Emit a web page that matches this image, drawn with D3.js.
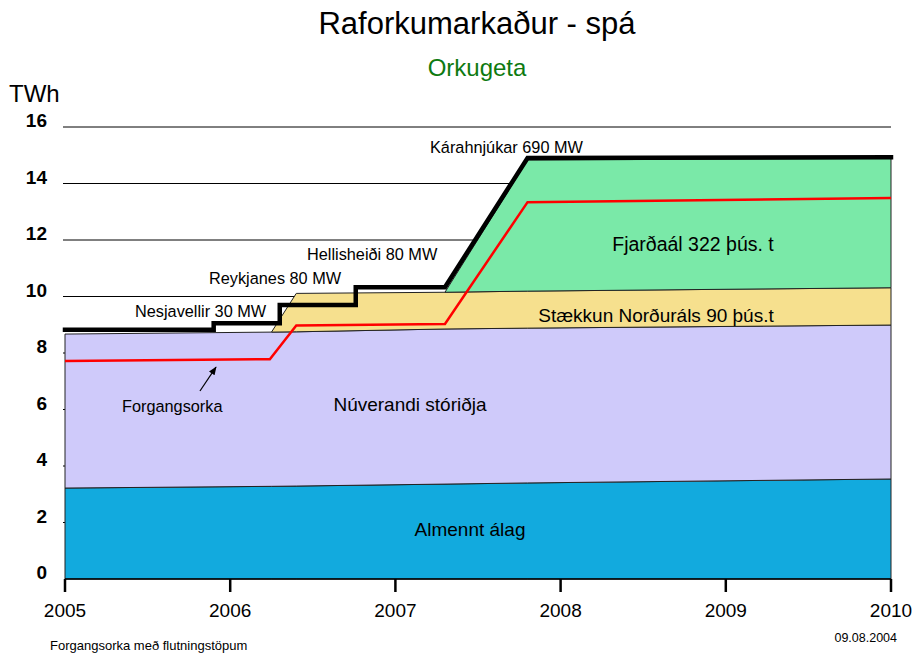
<!DOCTYPE html>
<html>
<head>
<meta charset="utf-8">
<script src="https://cdn.jsdelivr.net/npm/d3@7"></script>
<style>
  html, body { margin: 0; padding: 0; background: #fff; }
  svg { display: block; font-family: Arial, "Liberation Sans", sans-serif; }
</style>
</head>
<body>
<div id="chart"></div>
<script>
// Raforkumarkaður - spá: stacked areas (notkun) + orkugeta (svört þrep) + forgangsorka (rauð)

const years = [2005, 2006.25, 2006.4, 2007.3, 2007.8, 2010];
const almenntAlag = [3.22, 3.28, 3.29, 3.36, 3.40, 3.54];
const nuverandiStoridja = [5.45, 5.46, 5.46, 5.49, 5.48, 5.45];
const staekkunNordurals = [0, 0, 1.36, 1.30, 1.31, 1.32];
const fjardaal = [0, 0, 0, 0, 4.64, 4.58];

const orkugetaYears = [2005, 2005.9, 2005.9, 2006.3, 2006.3, 2006.76, 2006.76, 2007.3, 2007.8, 2010];
const orkugeta = [8.82, 8.82, 9.05, 9.05, 9.70, 9.70, 10.33, 10.33, 14.90, 14.93];

const forgangYears = [2005, 2006.24, 2006.4, 2007.3, 2007.8, 2010];
const forgangsorka = [7.72, 7.78, 8.97, 9.03, 13.34, 13.49];

const xTicks = [2005, 2006, 2007, 2008, 2009, 2010];
const yTicks = [0, 2, 4, 6, 8, 10, 12, 14, 16];

const layerKeys = ['almennt', 'nuverandi', 'nordural', 'fjardaal'];
const layerColors = {
  almennt: '#12aade',
  nuverandi: '#cfcafa',
  nordural: '#f6e08e',
  fjardaal: '#7ae9a8'
};

const W = 916, H = 654;
const svg = d3.select('#chart').append('svg')
  .attr('width', W).attr('height', H)
  .attr('viewBox', `0 0 ${W} ${H}`);

const x = d3.scaleLinear().domain([2005, 2010]).range([65, 891]);
const y = d3.scaleLinear().domain([0, 16]).range([579, 127]);

// titles
svg.append('text')
  .attr('x', 477).attr('y', 34)
  .attr('text-anchor', 'middle')
  .attr('font-size', 31)
  .attr('fill', '#000')
  .text('Raforkumarkaður - spá');

svg.append('text')
  .attr('x', 477).attr('y', 76)
  .attr('text-anchor', 'middle')
  .attr('font-size', 24)
  .attr('fill', '#0e7a10')
  .text('Orkugeta');

svg.append('text')
  .attr('x', 9).attr('y', 102)
  .attr('font-size', 24)
  .attr('fill', '#000')
  .text('TWh');

// gridlines (behind the areas)
svg.append('g').selectAll('line')
  .data(yTicks.filter(d => d > 0))
  .join('line')
  .attr('x1', 63).attr('x2', x(2010))
  .attr('y1', d => y(d)).attr('y2', d => y(d))
  .attr('stroke', '#000').attr('stroke-width', 1);

// y labels
svg.append('g').selectAll('text')
  .data(yTicks)
  .join('text')
  .attr('x', 47).attr('y', d => y(d))
  .attr('text-anchor', 'end')
  .attr('font-size', 19)
  .attr('font-weight', 'bold')
  .text(d => d);

// stacked areas
const rows = years.map((yr, i) => ({
  year: yr,
  almennt: almenntAlag[i],
  nuverandi: nuverandiStoridja[i],
  nordural: staekkunNordurals[i],
  fjardaal: fjardaal[i]
}));
const stacked = d3.stack().keys(layerKeys)(rows);

const area = d3.area()
  .x(d => x(d.data.year))
  .y0(d => y(d[0]))
  .y1(d => y(d[1]));

const startIdx = { almennt: 0, nuverandi: 0, nordural: 1, fjardaal: 3 };

svg.append('g').selectAll('path')
  .data(stacked)
  .join('path')
  .attr('d', s => area(s.slice(startIdx[s.key])))
  .attr('fill', s => layerColors[s.key])
  .attr('stroke', '#222')
  .attr('stroke-width', 1)
  .attr('stroke-linejoin', 'round');

// x axis
const axisG = svg.append('g');
axisG.append('line')
  .attr('x1', x(2005)).attr('x2', x(2010))
  .attr('y1', y(0)).attr('y2', y(0))
  .attr('stroke', '#000').attr('stroke-width', 1.5);
axisG.selectAll('line.tick')
  .data(xTicks)
  .join('line')
  .attr('class', 'tick')
  .attr('x1', d => x(d)).attr('x2', d => x(d))
  .attr('y1', y(0)).attr('y2', y(0) + 13)
  .attr('stroke', '#000').attr('stroke-width', 2.5);
axisG.selectAll('text')
  .data(xTicks)
  .join('text')
  .attr('x', d => x(d)).attr('y', 617)
  .attr('text-anchor', 'middle')
  .attr('font-size', 19)
  .text(d => d);

// forgangsorka (red)
const line = d3.line().x(d => x(d[0])).y(d => y(d[1]));
svg.append('path')
  .attr('d', line(forgangYears.map((yr, i) => [yr, forgangsorka[i]])))
  .attr('fill', 'none')
  .attr('stroke', '#ff0000')
  .attr('stroke-width', 2.5);

// orkugeta (black steps)
svg.append('path')
  .attr('d', line(orkugetaYears.map((yr, i) => [yr, orkugeta[i]])))
  .attr('fill', 'none')
  .attr('stroke', '#000')
  .attr('stroke-width', 4.5)
  .attr('stroke-linejoin', 'miter')
  .attr('stroke-linecap', 'square');

// arrow to forgangsorka
svg.append('defs').append('marker')
  .attr('id', 'arr')
  .attr('viewBox', '0 0 10 10')
  .attr('refX', 9).attr('refY', 5)
  .attr('markerWidth', 7).attr('markerHeight', 7)
  .attr('orient', 'auto')
  .append('path').attr('d', 'M0,1 L10,5 L0,9 Z').attr('fill', '#000');
svg.append('line')
  .attr('x1', x(2005.817)).attr('y1', y(6.655))
  .attr('x2', x(2005.914)).attr('y2', y(7.50))
  .attr('stroke', '#000').attr('stroke-width', 1.2)
  .attr('marker-end', 'url(#arr)');

// labels
const labels = [
  { t: 'Almennt álag', x: 470, y: 536, size: 19, anchor: 'middle' },
  { t: 'Núverandi stóriðja', x: 410, y: 411, size: 19, anchor: 'middle' },
  { t: 'Stækkun Norðuráls 90 þús.t', x: 656, y: 322, size: 19, anchor: 'middle' },
  { t: 'Fjarðaál 322 þús. t', x: 693, y: 251, size: 19.5, anchor: 'middle' },
  { t: 'Kárahnjúkar 690 MW', x: 430, y: 153, size: 16.3, anchor: 'start' },
  { t: 'Hellisheiði 80 MW', x: 307, y: 260, size: 16.3, anchor: 'start' },
  { t: 'Reykjanes 80 MW', x: 209, y: 284, size: 16.3, anchor: 'start' },
  { t: 'Nesjavellir 30 MW', x: 135, y: 317, size: 16.3, anchor: 'start' },
  { t: 'Forgangsorka', x: 122, y: 412, size: 16.3, anchor: 'start' }
];
svg.append('g').selectAll('text')
  .data(labels)
  .join('text')
  .attr('x', d => d.x).attr('y', d => d.y)
  .attr('text-anchor', d => d.anchor)
  .attr('font-size', d => d.size)
  .attr('fill', '#000')
  .text(d => d.t);

svg.append('text')
  .attr('x', 897).attr('y', 642)
  .attr('text-anchor', 'end')
  .attr('font-size', 12.5)
  .text('09.08.2004');

svg.append('text')
  .attr('x', 50).attr('y', 650)
  .attr('font-size', 13)
  .text('Forgangsorka með flutningstöpum');
</script>
</body>
</html>
